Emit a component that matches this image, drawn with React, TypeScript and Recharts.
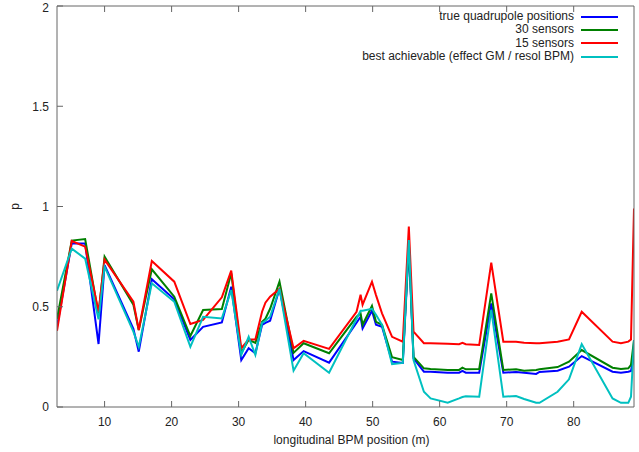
import { Legend, Line, LineChart, XAxis, YAxis } from "recharts";

const positions = [
  2.9, 5.1, 7.1, 9.1, 10.0, 14.3, 15.1, 17.05, 20.4, 22.8, 24.7, 27.5, 28.9,
  30.4, 31.5, 32.5, 33.5, 34.0, 34.7, 36.1, 38.2, 39.7, 43.5, 47.6, 48.2, 48.5,
  49.9, 50.5, 51.4, 52.9, 54.5, 55.4, 56.1, 57.65, 58.65, 61.2, 62.9, 63.4,
  63.9, 65.9, 67.7, 69.5, 71.4, 72.6, 74.4, 74.9, 77.6, 79.3, 81.2, 85.8, 87.05,
  88.15, 88.55, 89.0,
];
const trueQuad = [
  0.4, 0.816, 0.816, 0.314, 0.708, 0.39, 0.276, 0.637, 0.537, 0.334, 0.4, 0.422,
  0.6, 0.234, 0.293, 0.268, 0.409, 0.42, 0.43, 0.59, 0.234, 0.279, 0.221, 0.42,
  0.45, 0.392, 0.48, 0.41, 0.4, 0.226, 0.22, 0.8, 0.243, 0.176, 0.176, 0.171,
  0.171, 0.18, 0.171, 0.171, 0.517, 0.171, 0.175, 0.171, 0.165, 0.175, 0.181,
  0.201, 0.254, 0.176, 0.171, 0.176, 0.18, 0.254,
];
const sensors30 = [
  0.44, 0.83, 0.838, 0.46, 0.75, 0.51, 0.384, 0.687, 0.55, 0.354, 0.484, 0.489,
  0.667, 0.27, 0.335, 0.32, 0.425, 0.44, 0.49, 0.625, 0.27, 0.318, 0.268, 0.45,
  0.467, 0.41, 0.504, 0.425, 0.41, 0.248, 0.234, 0.82, 0.25, 0.193, 0.19, 0.185,
  0.185, 0.196, 0.188, 0.19, 0.567, 0.185, 0.188, 0.181, 0.185, 0.188, 0.199,
  0.226, 0.284, 0.196, 0.19, 0.193, 0.21, 0.334,
];
const sensors15 = [
  0.38, 0.828, 0.8, 0.475, 0.735, 0.525, 0.384, 0.728, 0.625, 0.414, 0.434,
  0.547, 0.68, 0.293, 0.337, 0.337, 0.475, 0.52, 0.55, 0.59, 0.293, 0.33, 0.29,
  0.475, 0.56, 0.51, 0.625, 0.558, 0.467, 0.35, 0.326, 0.9, 0.376, 0.318, 0.318,
  0.315, 0.313, 0.32, 0.313, 0.309, 0.72, 0.326, 0.326, 0.32, 0.318, 0.318,
  0.326, 0.337, 0.475, 0.326, 0.318, 0.326, 0.337, 0.99,
];
const bestAchievable = [
  0.58, 0.79, 0.74, 0.437, 0.7, 0.376, 0.3, 0.617, 0.525, 0.3, 0.45, 0.442,
  0.583, 0.26, 0.35, 0.26, 0.42, 0.43, 0.45, 0.59, 0.181, 0.268, 0.171, 0.44,
  0.48, 0.48, 0.49, 0.46, 0.41, 0.214, 0.22, 0.833, 0.234, 0.076, 0.043, 0.021,
  0.043, 0.05, 0.053, 0.051, 0.484, 0.051, 0.055, 0.04, 0.021, 0.021, 0.076,
  0.138, 0.314, 0.043, 0.021, 0.021, 0.051, 0.334,
];

const xTicks = [10, 20, 30, 40, 50, 60, 70, 80];
const yTicks = [0, 0.5, 1, 1.5, 2];

const series = [
  { key: "trueQuad", name: "true quadrupole positions", color: "#0000ff" },
  { key: "sensors30", name: "30 sensors", color: "#008000" },
  { key: "sensors15", name: "15 sensors", color: "#ff0000" },
  { key: "best", name: "best achievable (effect GM / resol BPM)", color: "#00c0c0" },
];

const data = positions.map((x, i) => ({
  x,
  trueQuad: trueQuad[i],
  sensors30: sensors30[i],
  sensors15: sensors15[i],
  best: bestAchievable[i],
}));

const font = "'Liberation Sans', Arial, sans-serif";
const axisColor = "#666";
const textColor = "#222";

const LegendBox = () => (
  <div style={{ fontFamily: font, fontSize: 12, color: textColor }}>
    {series.map((s) => (
      <div
        key={s.key}
        style={{
          display: "flex",
          alignItems: "center",
          justifyContent: "flex-end",
          height: 13.3,
          lineHeight: "13.3px",
        }}
      >
        <span style={{ whiteSpace: "nowrap" }}>{s.name}</span>
        <span
          style={{
            display: "inline-block",
            width: 37,
            height: 2,
            marginLeft: 7,
            background: s.color,
          }}
        />
      </div>
    ))}
  </div>
);

export default function App() {
  return (
    <div style={{ position: "absolute", left: 0, top: 0, background: "#fff" }}>
      <LineChart
        width={639}
        height={452}
        data={data}
        margin={{ top: 0, right: 0, bottom: 0, left: 0 }}
      >
        <XAxis
          xAxisId="bottom"
          dataKey="x"
          type="number"
          domain={[2.9, 89]}
          allowDataOverflow
          ticks={xTicks}
          height={45}
          stroke={axisColor}
          tickSize={-6}
          tickMargin={16}
          tick={{ fill: textColor, fontSize: 12, fontFamily: font }}
          label={{
            content: ({ viewBox }: any) => (
              <text
                x={viewBox.x + viewBox.width / 2 + 6}
                y={viewBox.y + 33}
                textAnchor="middle"
                dominantBaseline="central"
                fill={textColor}
                fontSize={12}
                fontFamily={font}
              >
                longitudinal BPM position (m)
              </text>
            ),
          }}
        />
        <XAxis
          xAxisId="top"
          orientation="top"
          dataKey="x"
          type="number"
          domain={[2.9, 89]}
          allowDataOverflow
          ticks={xTicks}
          height={6}
          stroke={axisColor}
          tickSize={-6}
          tick={() => <g />}
        />
        <YAxis
          yAxisId="left"
          type="number"
          domain={[0, 2]}
          ticks={yTicks}
          width={57}
          stroke={axisColor}
          tickSize={-6}
          tickMargin={14}
          tick={{ fill: textColor, fontSize: 12, fontFamily: font }}
          label={{
            content: ({ viewBox }: any) => (
              <text
                x={15}
                y={viewBox.y + viewBox.height / 2}
                transform={`rotate(-90 15 ${viewBox.y + viewBox.height / 2})`}
                textAnchor="middle"
                dominantBaseline="central"
                fill={textColor}
                fontSize={12}
                fontFamily={font}
              >
                p
              </text>
            ),
          }}
        />
        <YAxis
          yAxisId="right"
          orientation="right"
          type="number"
          domain={[0, 2]}
          ticks={yTicks}
          width={5}
          stroke={axisColor}
          tickSize={-6}
          tick={() => <g />}
        />
        <Legend
          layout="vertical"
          align="center"
          verticalAlign="middle"
          content={() => <LegendBox />}
          wrapperStyle={{ top: 10, right: 21, left: "auto", width: "auto" }}
        />
        {series.map((s) => (
          <Line
            key={s.key}
            xAxisId="bottom"
            yAxisId="left"
            type="linear"
            dataKey={s.key}
            name={s.name}
            stroke={s.color}
            strokeWidth={2}
            dot={false}
            isAnimationActive={false}
          />
        ))}
      </LineChart>
    </div>
  );
}
